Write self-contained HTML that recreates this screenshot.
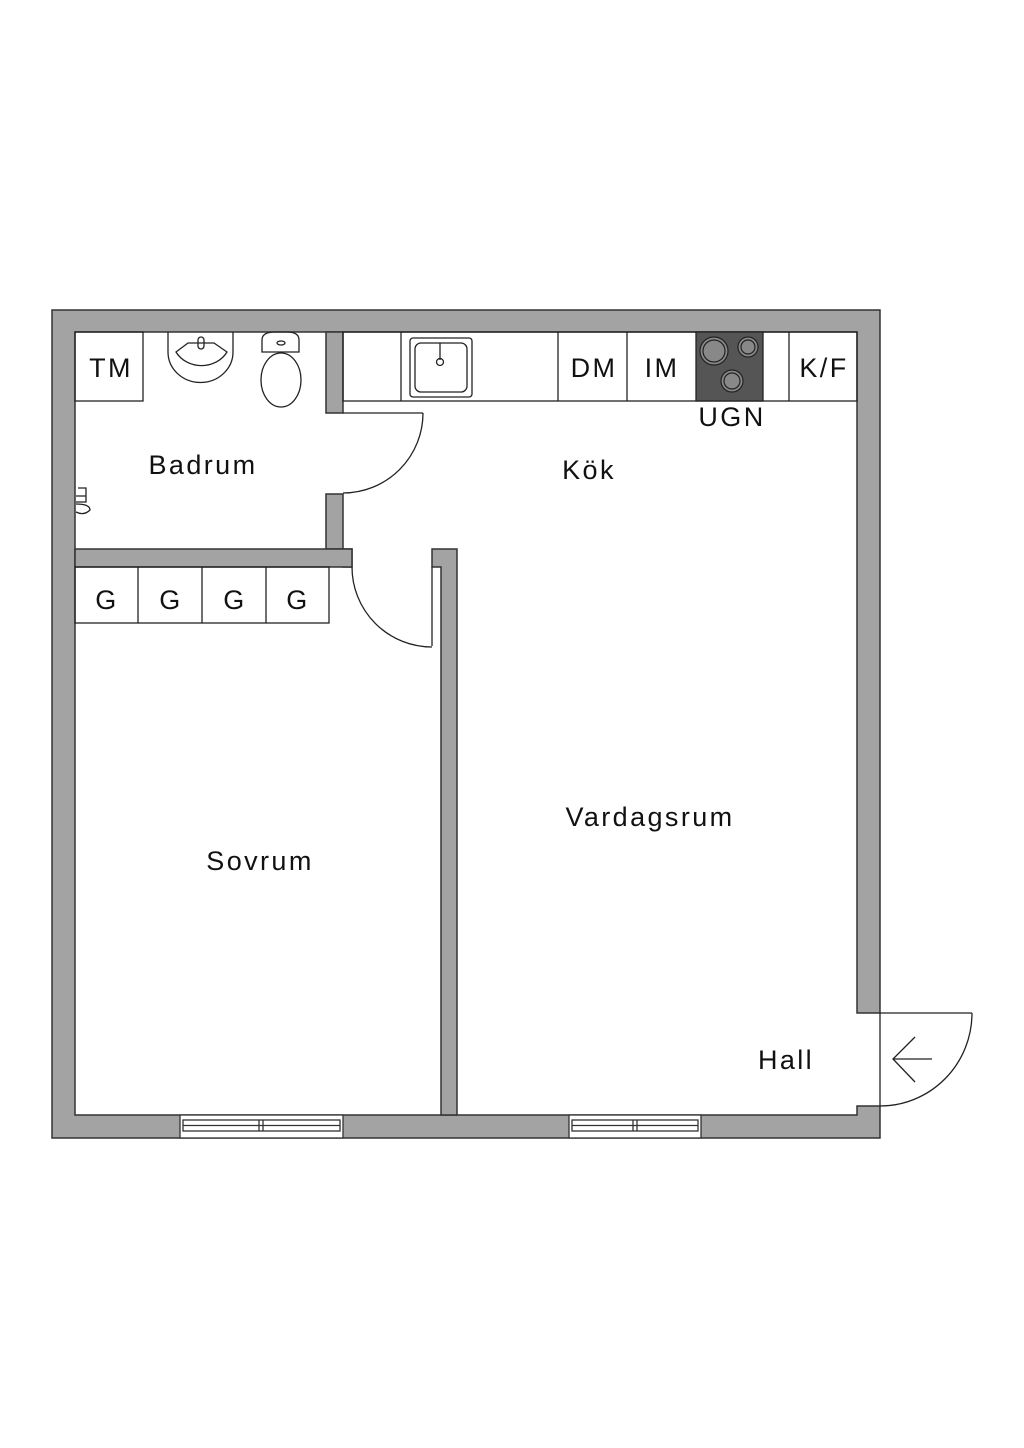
<!DOCTYPE html>
<html><head><meta charset="utf-8"><style>
html,body{margin:0;padding:0;background:#fff;}
svg{display:block;}
text{font-family:"Liberation Sans",sans-serif;fill:#111;}
</style></head><body>
<svg width="1024" height="1448" viewBox="0 0 1024 1448" xmlns="http://www.w3.org/2000/svg">
<g fill="#a3a3a3" stroke="#333" stroke-width="1.5">
<path d="M52,310 H880 V1013 H857 V332 H75 V1115 H857 V1106 H880 V1138 H52 Z"/>
<path d="M326,332 H343 V413 H326 Z"/>
<path d="M326,494 H343 V567 H352 V549 H326 Z" />
<path d="M75,549 H352 V567 H75 Z"/>
<path d="M432,549 H457 V1115 H441 V567 H432 Z"/>
</g>
<g stroke="#333" stroke-width="1.3" fill="#fff">
<rect x="180" y="1115" width="163" height="23"/>
<rect x="183" y="1120" width="157" height="11"/>
<line x1="183" y1="1125.5" x2="340" y2="1125.5"/>
<line x1="259" y1="1120" x2="259" y2="1131"/><line x1="263" y1="1120" x2="263" y2="1131"/>
<rect x="569" y="1115" width="132" height="23"/>
<rect x="572" y="1120" width="126" height="11"/>
<line x1="572" y1="1125.5" x2="698" y2="1125.5"/>
<line x1="633" y1="1120" x2="633" y2="1131"/><line x1="637" y1="1120" x2="637" y2="1131"/>
</g>
<g fill="none" stroke="#222" stroke-width="1.3">
<line x1="343" y1="413" x2="423" y2="413"/>
<path d="M423,413 A80,80 0 0 1 343,493"/>
<line x1="432" y1="567" x2="432" y2="646"/>
<path d="M352,567 A80,80 0 0 0 432,647"/>
<line x1="880" y1="1013" x2="880" y2="1106"/>
<line x1="880" y1="1013" x2="972" y2="1013"/>
<path d="M972,1013 A92,93 0 0 1 880,1106"/>
<path d="M915,1037 L893,1059 L915,1082 M893,1059 H932"/>
<rect x="75" y="332" width="68" height="69"/>
<path d="M168,332 V352 A32,30 0 0 0 233,352 V332"/>
<path d="M176,352 L188,343 H214 L227,352 A29,26 0 0 1 176,352 Z"/>
<rect x="198" y="337" width="6" height="12" rx="3"/>
<path d="M262,352 V340 Q262,332 275,332 H287 Q299,332 299,340 V352 Z"/>
<ellipse cx="281" cy="380" rx="20" ry="27"/>
<ellipse cx="281" cy="343" rx="4" ry="2"/>
<rect x="343" y="332" width="514" height="69"/>
<line x1="401" y1="332" x2="401" y2="401"/>
<line x1="558" y1="332" x2="558" y2="401"/>
<line x1="627" y1="332" x2="627" y2="401"/>
<line x1="789" y1="332" x2="789" y2="401"/>
<rect x="410" y="338" width="62" height="59" rx="3"/>
<rect x="415" y="343" width="52" height="49" rx="6"/>
<line x1="440" y1="343" x2="440" y2="360"/>
<circle cx="440" cy="362" r="3.5"/>
<rect x="75" y="567" width="254" height="56"/>
<line x1="138" y1="567" x2="138" y2="623"/>
<line x1="202" y1="567" x2="202" y2="623"/>
<line x1="266" y1="567" x2="266" y2="623"/>
<path d="M78,488 h8 v8 h-8 M76,496 h10 v6 h-10 M76,504 q14,0 14,6 q-6,6 -14,2"/>
</g>
<rect x="696" y="332" width="67" height="69" fill="#555" stroke="#222" stroke-width="1.3"/>
<g fill="#888" stroke="#222" stroke-width="1.2">
<circle cx="714" cy="351" r="14"/><circle cx="714" cy="351" r="11" fill="none"/>
<circle cx="748" cy="347" r="10"/><circle cx="748" cy="347" r="7" fill="none"/>
<circle cx="732" cy="381" r="11"/><circle cx="732" cy="381" r="8" fill="none"/>
</g>
<g font-size="27" letter-spacing="2.4">
<text x="111" y="377" text-anchor="middle">TM</text>
<text x="594" y="377" text-anchor="middle">DM</text>
<text x="662" y="377" text-anchor="middle">IM</text>
<text x="824" y="377" text-anchor="middle">K/F</text>
<text x="732" y="426" text-anchor="middle">UGN</text>
<text x="203" y="474" text-anchor="middle">Badrum</text>
<text x="589" y="479" text-anchor="middle">Kök</text>
<text x="107" y="609" text-anchor="middle">G</text>
<text x="171" y="609" text-anchor="middle">G</text>
<text x="235" y="609" text-anchor="middle">G</text>
<text x="298" y="609" text-anchor="middle">G</text>
<text x="650" y="826" text-anchor="middle">Vardagsrum</text>
<text x="260" y="870" text-anchor="middle">Sovrum</text>
<text x="786" y="1069" text-anchor="middle">Hall</text>
</g>
</svg>
</body></html>
